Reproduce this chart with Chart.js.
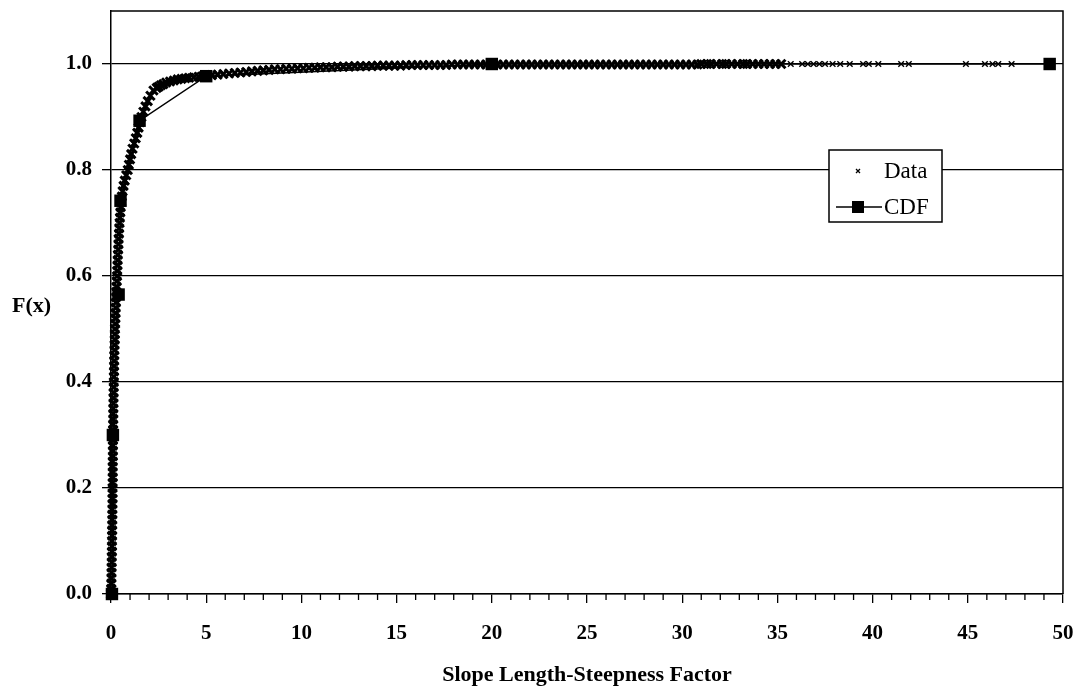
<!DOCTYPE html>
<html>
<head>
<meta charset="utf-8">
<script src="https://cdn.jsdelivr.net/npm/chart.js@4"></script>
<style>
  html, body { margin: 0; padding: 0; background: #fff; }
</style>
</head>
<body>
<canvas id="cdfChart" width="1083" height="692"></canvas>
<script>
const dataX = [
  0.00, 0.01, 0.02, 0.02, 0.03, 0.03, 0.04, 0.04, 0.05, 0.05,
  0.05, 0.06, 0.06, 0.06, 0.07, 0.07, 0.07, 0.08, 0.08, 0.08,
  0.08, 0.09, 0.09, 0.09, 0.09, 0.09, 0.10, 0.10, 0.10, 0.10,
  0.11, 0.11, 0.11, 0.12, 0.12, 0.12, 0.13, 0.13, 0.14, 0.14,
  0.15, 0.15, 0.16, 0.16, 0.17, 0.17, 0.18, 0.19, 0.20, 0.20,
  0.21, 0.22, 0.23, 0.24, 0.25, 0.26, 0.27, 0.28, 0.29, 0.30,
  0.32, 0.33, 0.34, 0.35, 0.36, 0.38, 0.39, 0.40, 0.42, 0.43,
  0.45, 0.47, 0.49, 0.51, 0.54, 0.57, 0.61, 0.66, 0.72, 0.80,
  0.88, 0.94, 1.00, 1.06, 1.13, 1.22, 1.30, 1.38, 1.45, 1.52,
  1.60, 1.70, 1.81, 1.93, 2.07, 2.23, 2.40, 2.50, 2.62, 2.75,
  2.90, 3.10, 3.30, 3.50, 3.70, 3.90, 4.10, 4.35, 4.60, 4.80,
  5.0, 5.3, 5.6, 5.9, 6.2, 6.5, 6.8, 7.1, 7.4, 7.7,
  8.0, 8.3, 8.6, 8.9, 9.2, 9.5, 9.8, 10.1, 10.4, 10.7,
  11.0, 11.3, 11.6, 11.9, 12.2, 12.5, 12.8, 13.1, 13.4, 13.7,
  14.0, 14.3, 14.6, 14.9, 15.2, 15.5, 15.8, 16.1, 16.4, 16.7,
  17.0, 17.3, 17.6, 17.9, 18.2, 18.5, 18.8, 19.1, 19.4, 19.7,
  20.0, 20.3, 20.6, 20.9, 21.2, 21.5, 21.8, 22.1, 22.4, 22.7,
  23.0, 23.3, 23.6, 23.9, 24.2, 24.5, 24.8, 25.1, 25.4, 25.7,
  26.0, 26.3, 26.6, 26.9, 27.2, 27.5, 27.8, 28.1, 28.4, 28.7,
  29.0, 29.3, 29.6, 29.9, 30.2, 30.5, 30.8,
  31.0, 31.3, 31.5, 31.8, 32.1, 32.3, 32.6, 32.9, 33.2, 33.4,
  33.7, 34.0, 34.3, 34.6, 34.9, 35.2,
  35.7, 36.3, 36.6, 36.9, 37.2, 37.5, 37.9, 38.3, 38.8, 39.5,
  39.8, 40.3, 41.5, 41.9, 44.9, 45.9, 46.3, 46.6, 47.3
];
const dataF = [
  0.00, 0.01, 0.02, 0.03, 0.04, 0.05, 0.06, 0.07, 0.08, 0.09,
  0.10, 0.11, 0.12, 0.13, 0.14, 0.15, 0.16, 0.17, 0.18, 0.19,
  0.20, 0.21, 0.22, 0.23, 0.24, 0.25, 0.26, 0.27, 0.28, 0.29,
  0.30, 0.31, 0.32, 0.33, 0.34, 0.35, 0.36, 0.37, 0.38, 0.39,
  0.40, 0.41, 0.42, 0.43, 0.44, 0.45, 0.46, 0.47, 0.48, 0.49,
  0.50, 0.51, 0.52, 0.53, 0.54, 0.55, 0.56, 0.57, 0.58, 0.59,
  0.60, 0.61, 0.62, 0.63, 0.64, 0.65, 0.66, 0.67, 0.68, 0.69,
  0.70, 0.71, 0.72, 0.73, 0.74, 0.75, 0.76, 0.77, 0.78, 0.79,
  0.80, 0.81, 0.82, 0.83, 0.84, 0.85, 0.86, 0.87, 0.88, 0.89,
  0.90, 0.91, 0.92, 0.93, 0.94, 0.95, 0.955, 0.957, 0.96, 0.962,
  0.965, 0.967, 0.969, 0.971, 0.972, 0.973, 0.974, 0.975, 0.976, 0.977,
  0.978, 0.979, 0.980, 0.981, 0.982, 0.983, 0.984, 0.985, 0.986, 0.987,
  0.988, 0.989, 0.990, 0.990, 0.991, 0.991, 0.992, 0.992, 0.993, 0.993,
  0.994, 0.994, 0.994, 0.995, 0.995, 0.995, 0.996, 0.996, 0.996, 0.996,
  0.997, 0.997, 0.997, 0.997, 0.997, 0.998, 0.998, 0.998, 0.998, 0.998,
  0.998, 0.998, 0.998, 0.999, 0.999, 0.999, 0.999, 0.999, 0.999, 0.999,
  0.999, 0.999, 0.999, 0.999, 0.999, 0.999, 0.999, 0.999, 0.999, 0.999,
  0.999, 0.999, 0.999, 0.999, 0.999, 0.999, 0.999, 0.999, 0.999, 0.999,
  0.999, 0.999, 0.999, 0.999, 0.999, 0.999, 0.999, 0.999, 0.999, 0.999,
  0.999, 0.999, 0.999, 0.999, 0.999, 0.999, 0.999,
  1.0, 1.0, 1.0, 1.0, 1.0, 1.0, 1.0, 1.0, 1.0, 1.0,
  1.0, 1.0, 1.0, 1.0, 1.0, 1.0,
  1.0, 1.0, 1.0, 1.0, 1.0, 1.0, 1.0, 1.0, 1.0, 1.0,
  1.0, 1.0, 1.0, 1.0, 1.0, 1.0, 1.0, 1.0, 1.0
];

// fitted CDF markers
const cdfX = [0.05, 0.1, 0.4, 0.5, 1.5, 5.0, 20.0, 49.3];
const cdfF = [0.0, 0.3, 0.565, 0.742, 0.893, 0.977, 1.0, 1.0];

const xTicks = [0, 5, 10, 15, 20, 25, 30, 35, 40, 45, 50];
const yTicks = [0.0, 0.2, 0.4, 0.6, 0.8, 1.0];

const serif = "'Liberation Serif', 'Times New Roman', 'DejaVu Serif', serif";
Chart.defaults.font.family = serif;
Chart.defaults.color = '#000';

// box on top/right, minor x ticks, horizontal y title, legend box
const framePlugin = {
  id: 'frame',
  beforeDatasetsDraw(chart) {
    const { ctx, chartArea: a, scales } = chart;
    ctx.save();
    ctx.strokeStyle = '#000';
    ctx.lineWidth = 1.5;
    ctx.beginPath();
    ctx.moveTo(a.left, a.top);
    ctx.lineTo(a.right, a.top);
    ctx.lineTo(a.right, a.bottom);
    ctx.stroke();

    // minor ticks every 1 unit
    ctx.lineWidth = 1.3;
    ctx.beginPath();
    for (let v = 0; v <= 50; v++) {
      if (v % 5 === 0) continue;
      const px = scales.x.getPixelForValue(v);
      ctx.moveTo(px, a.bottom);
      ctx.lineTo(px, a.bottom + 6);
    }
    ctx.stroke();

    ctx.font = 'bold 22px ' + serif;
    ctx.fillStyle = '#000';
    ctx.textAlign = 'left';
    ctx.textBaseline = 'middle';
    ctx.fillText('F(x)', 12, 306);
    ctx.restore();
  },
  afterDraw(chart) {
    const { ctx } = chart;
    const bx = 829, by = 150, bw = 113, bh = 72;
    ctx.save();
    ctx.fillStyle = '#fff';
    ctx.fillRect(bx, by, bw, bh);
    ctx.strokeStyle = '#000';
    ctx.lineWidth = 1.5;
    ctx.strokeRect(bx, by, bw, bh);

    // Data entry: small x mark
    ctx.lineWidth = 1.3;
    ctx.beginPath();
    ctx.moveTo(856, 169); ctx.lineTo(860, 173);
    ctx.moveTo(860, 169); ctx.lineTo(856, 173);
    ctx.stroke();

    // CDF entry: line with square
    ctx.lineWidth = 1.5;
    ctx.beginPath();
    ctx.moveTo(836, 207); ctx.lineTo(882, 207);
    ctx.stroke();
    ctx.fillStyle = '#000';
    ctx.fillRect(852, 201, 12, 12);

    ctx.font = '23px ' + serif;
    ctx.textAlign = 'left';
    ctx.textBaseline = 'middle';
    ctx.fillText('Data', 884, 172);
    ctx.fillText('CDF', 884, 208);
    ctx.restore();
  }
};

const chart = new Chart(document.getElementById('cdfChart'), {
  type: 'scatter',
  data: {
    datasets: [
      {
        label: 'CDF',
        data: cdfX.map((x, i) => ({ x, y: cdfF[i] })),
        showLine: true,
        borderColor: '#000',
        borderWidth: 1.5,
        pointStyle: 'rect',
        pointRadius: 8.8,
        pointBackgroundColor: '#000',
        pointBorderColor: '#000',
        pointBorderWidth: 0,
        order: 0,
        clip: false
      },
      {
        label: 'Data',
        data: dataX.map((x, i) => ({ x, y: dataF[i] })),
        showLine: false,
        pointStyle: 'crossRot',
        // dense part of the sample reads as a thick band, the sparse tail as small x marks
        pointRadius: (c) => (c.raw && c.raw.x > 35.5 ? 4 : 6),
        pointBorderColor: '#000',
        pointBorderWidth: (c) => (c.raw && c.raw.x > 35.5 ? 1.4 : 3),
        order: 1,
        clip: false
      }
    ]
  },
  options: {
    responsive: false,
    animation: false,
    layout: { padding: { top: 11, right: 20, left: 0, bottom: 0 } },
    plugins: { legend: { display: false }, tooltip: { enabled: false } },
    scales: {
      x: {
        type: 'linear',
        min: 0,
        max: 50,
        afterBuildTicks: (s) => { s.ticks = xTicks.map(v => ({ value: v })); },
        afterFit: (s) => { s.height = 98; s.paddingLeft = 0; s.paddingRight = 0; },
        grid: { drawOnChartArea: false, color: '#000', lineWidth: 1.3, tickLength: 9 },
        border: { color: '#000', width: 1.5 },
        ticks: {
          color: '#000',
          font: { size: 21, weight: 'bold' },
          padding: 18,
          maxRotation: 0,
          autoSkip: false,
          callback: (v) => String(v)
        },
        title: {
          display: true,
          text: 'Slope Length-Steepness Factor',
          color: '#000',
          font: { size: 22, weight: 'bold' },
          padding: { top: 0, bottom: 3 }
        }
      },
      y: {
        min: 0,
        max: 1.1,
        afterBuildTicks: (s) => { s.ticks = yTicks.map(v => ({ value: v })); },
        afterFit: (s) => { s.width = 111; s.paddingTop = 0; s.paddingBottom = 0; },
        grid: { color: '#000', lineWidth: 1.3, tickLength: 9 },
        border: { color: '#000', width: 1.5 },
        ticks: {
          color: '#000',
          font: { size: 21, weight: 'bold' },
          padding: 10,
          callback: (v) => v.toFixed(1)
        }
      }
    }
  },
  plugins: [framePlugin]
});
</script>
</body>
</html>
